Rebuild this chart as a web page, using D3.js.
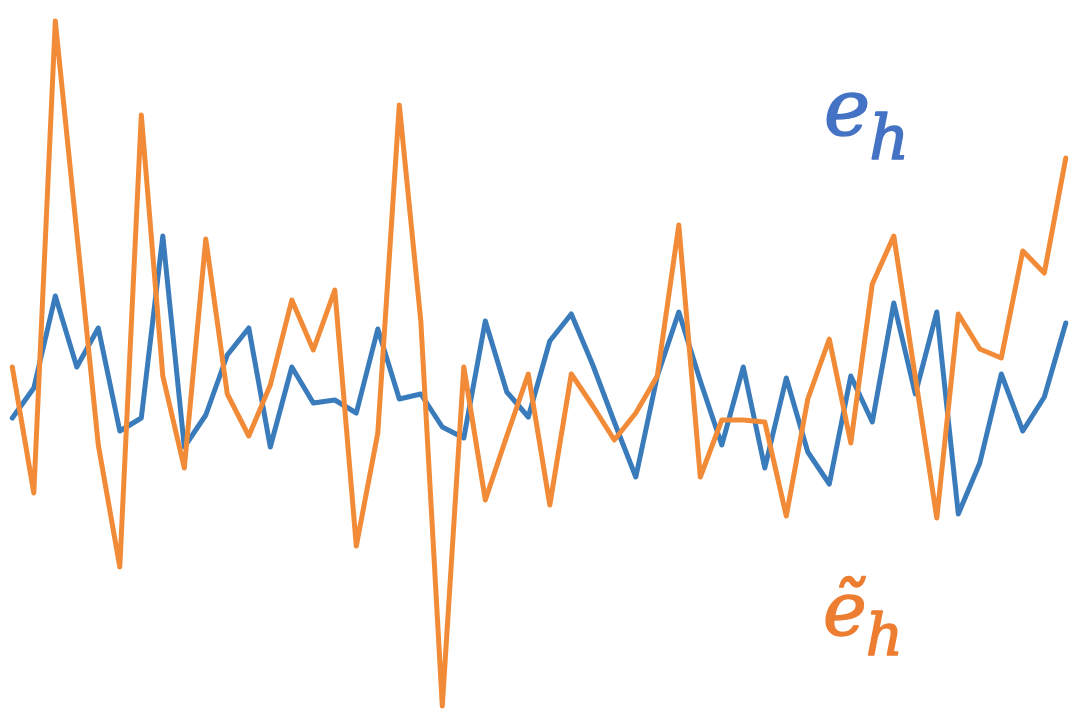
<!DOCTYPE html>
<html>
<head>
<meta charset="utf-8">
<script src="https://cdn.jsdelivr.net/npm/d3@7"></script>
<style>
html, body { margin: 0; padding: 0; background: #ffffff; }
svg { display: block; }
</style>
</head>
<body>
<div id="chart"></div>
<script>
// Series values (arbitrary units), 50 samples each
const steps = d3.range(50);
const eH = [-0.18, 0.12, 1.04, 0.33, 0.72, -0.31, -0.18, 1.64, -0.47, -0.15,
            0.45, 0.72, -0.47, 0.33, -0.03, 0.00, -0.13, 0.71, 0.01, 0.06,
            -0.27, -0.38, 0.79, 0.08, -0.17, 0.59, 0.86, 0.35, -0.22, -0.77,
            0.24, 0.88, 0.19, -0.45, 0.33, -0.68, 0.22, -0.52, -0.84, 0.24,
            -0.22, 0.97, 0.06, 0.88, -1.14, -0.63, 0.26, -0.31, 0.03, 0.77];
const eHTilde = [0.33, -0.93, 3.79, 1.67, -0.45, -1.67, 2.85, 0.24, -0.68, 1.61,
                 0.06, -0.36, 0.15, 1.00, 0.50, 1.10, -1.46, -0.33, 2.95, 0.79,
                 -3.06, 0.33, -1.00, -0.36, 0.26, -1.05, 0.26, -0.06, -0.40, -0.13,
                 0.24, 1.75, -0.77, -0.20, -0.20, -0.22, -1.16, 0.01, 0.61, -0.43,
                 1.16, 1.64, 0.23, -1.18, 0.86, 0.51, 0.42, 1.49, 1.27, 2.42];
const labels = ["e", "h", "\u1EBD", "h"];

const W = 1088, H = 716;
const svg = d3.select("#chart").append("svg").attr("width", W).attr("height", H);

const x = d3.scaleLinear().domain([0, 49]).range([12.3, 1065.8]);
const y = d3.scaleLinear().domain([-3, 4]).range([700, 0]);

const line = d3.line().x((d, i) => x(steps[i])).y(d => y(d));

svg.append("path").datum(eH)
  .attr("d", line).attr("fill", "none")
  .attr("stroke", "#3a7cbb").attr("stroke-width", 5)
  .attr("stroke-linejoin", "round").attr("stroke-linecap", "round");

svg.append("path").datum(eHTilde)
  .attr("d", line).attr("fill", "none")
  .attr("stroke", "#f28b38").attr("stroke-width", 5)
  .attr("stroke-linejoin", "round").attr("stroke-linecap", "round");

const t1 = svg.append("text")
  .attr("x", 824).attr("y", 135)
  .attr("font-family", "'DejaVu Serif', serif").attr("font-style", "italic")
  .attr("fill", "#4472c4").attr("stroke", "#4472c4").attr("stroke-width", 1.6)
  .attr("stroke-linejoin", "round");
t1.append("tspan").attr("font-size", 78).text(labels[0]);
t1.append("tspan").attr("font-size", 62).attr("dy", 24).attr("dx", -1).text(labels[1]);

const t2 = svg.append("text")
  .attr("x", 823).attr("y", 635)
  .attr("font-family", "'DejaVu Serif', serif").attr("font-style", "italic")
  .attr("fill", "#ed7d31").attr("stroke", "#ed7d31").attr("stroke-width", 1.4)
  .attr("stroke-linejoin", "round");
t2.append("tspan").attr("font-size", 74).text(labels[2]);
t2.append("tspan").attr("font-size", 58).attr("dy", 20).attr("dx", -1).text(labels[3]);
</script>
</body>
</html>
